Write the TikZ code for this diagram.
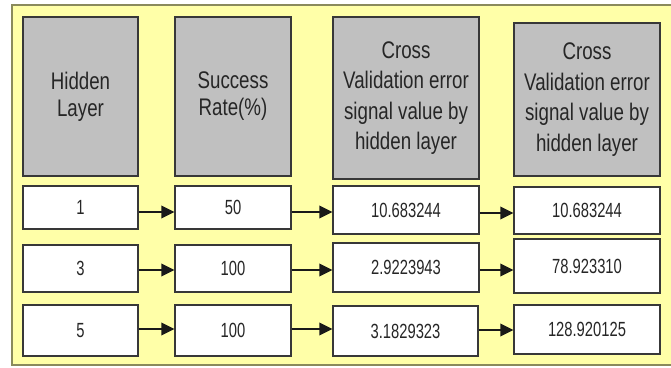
\documentclass[tikz,border=0pt]{standalone}
\usepackage{fontspec}
\setmainfont{Liberation Sans}[FakeStretch=0.78]
\newfontfamily\valfont{Liberation Sans}[FakeStretch=0.72]
\usetikzlibrary{arrows.meta,positioning,calc}

\definecolor{panelyellow}{HTML}{FFFFA8}
\definecolor{panelframe}{HTML}{8A8A5C}
\definecolor{headgray}{HTML}{C0C0C0}
\definecolor{boxline}{HTML}{383838}
\definecolor{textdark}{HTML}{262626}

\tikzset{
  headbox/.style={draw=boxline, fill=headgray, line width=1.4pt, inner sep=0pt,
    align=center, text=textdark, font=\fontsize{24}{27}\selectfont},
  cvhead/.style={headbox, minimum width=146pt, font=\fontsize{24}{30.5}\selectfont},
  valbox/.style={draw=boxline, fill=white, line width=1.2pt, inner sep=0pt,
    text=textdark, font=\valfont\fontsize{20.5}{24}\selectfont},
  flowarrow/.style={-{Triangle[length=13pt,width=12.5pt]}, line width=2pt, draw=black!90}
}

\begin{document}
\begin{tikzpicture}[x=1pt,y=-1pt]
\useasboundingbox (0,0) rectangle (671,367);

% Yellow panel (right edge runs off the page)
\draw[panelframe, fill=panelyellow, line width=2pt] (12,5) rectangle (690,365);

% Header boxes
\node[headbox, minimum width=115pt, minimum height=159pt] (hidHead) at (80.5,96.5) {Hidden\\Layer};
\node[headbox, minimum width=116pt, minimum height=159pt] (rateHead) at (233,96.5) {Success\\Rate(\%)};
\node[cvhead, minimum height=162pt] (cvAHead) at (406,98) {Cross\\Validation error\\signal value by\\hidden layer};
\node[cvhead, minimum height=153pt] (cvBHead) at (587,99.5) {Cross\\Validation error\\signal value by\\hidden layer};

% Row 1
\node[valbox, minimum width=115pt, minimum height=43pt] (hid1) at (80.5,207.5) {1};
\node[valbox, minimum width=116pt, minimum height=43pt] (rate1) at (233,207.5) {50};
\node[valbox, minimum width=146pt, minimum height=48pt] (cvA1) at (406,210) {10.683244};
\node[valbox, minimum width=146pt, minimum height=47pt] (cvB1) at (587,210.5) {10.683244};

% Row 2
\node[valbox, minimum width=115pt, minimum height=47pt] (hid2) at (80.5,268.5) {3};
\node[valbox, minimum width=116pt, minimum height=47pt] (rate2) at (233,268.5) {100};
\node[valbox, minimum width=146pt, minimum height=49pt] (cvA2) at (406,267.5) {2.9223943};
\node[valbox, minimum width=146pt, minimum height=54pt] (cvB2) at (587,266) {78.923310};

% Row 3
\node[valbox, minimum width=115pt, minimum height=51pt] (hid3) at (80.5,330.5) {5};
\node[valbox, minimum width=116pt, minimum height=51pt] (rate3) at (233,330.5) {100};
\node[valbox, minimum width=145pt, minimum height=50pt] (cvA3) at (405.5,331) {3.1829323};
\node[valbox, minimum width=146pt, minimum height=49pt] (cvB3) at (587,329.5) {128.920125};

% Arrows along each row
\foreach \r/\ya/\yb in {1/212/213, 2/270/270, 3/329/330} {
  \draw[flowarrow] (hid\r.east |- 0,\ya) -- (rate\r.west |- 0,\ya);
  \draw[flowarrow] (rate\r.east |- 0,\ya) -- (cvA\r.west |- 0,\ya);
  \draw[flowarrow] (cvA\r.east |- 0,\yb) -- (cvB\r.west |- 0,\yb);
}

\end{tikzpicture}
\end{document}
